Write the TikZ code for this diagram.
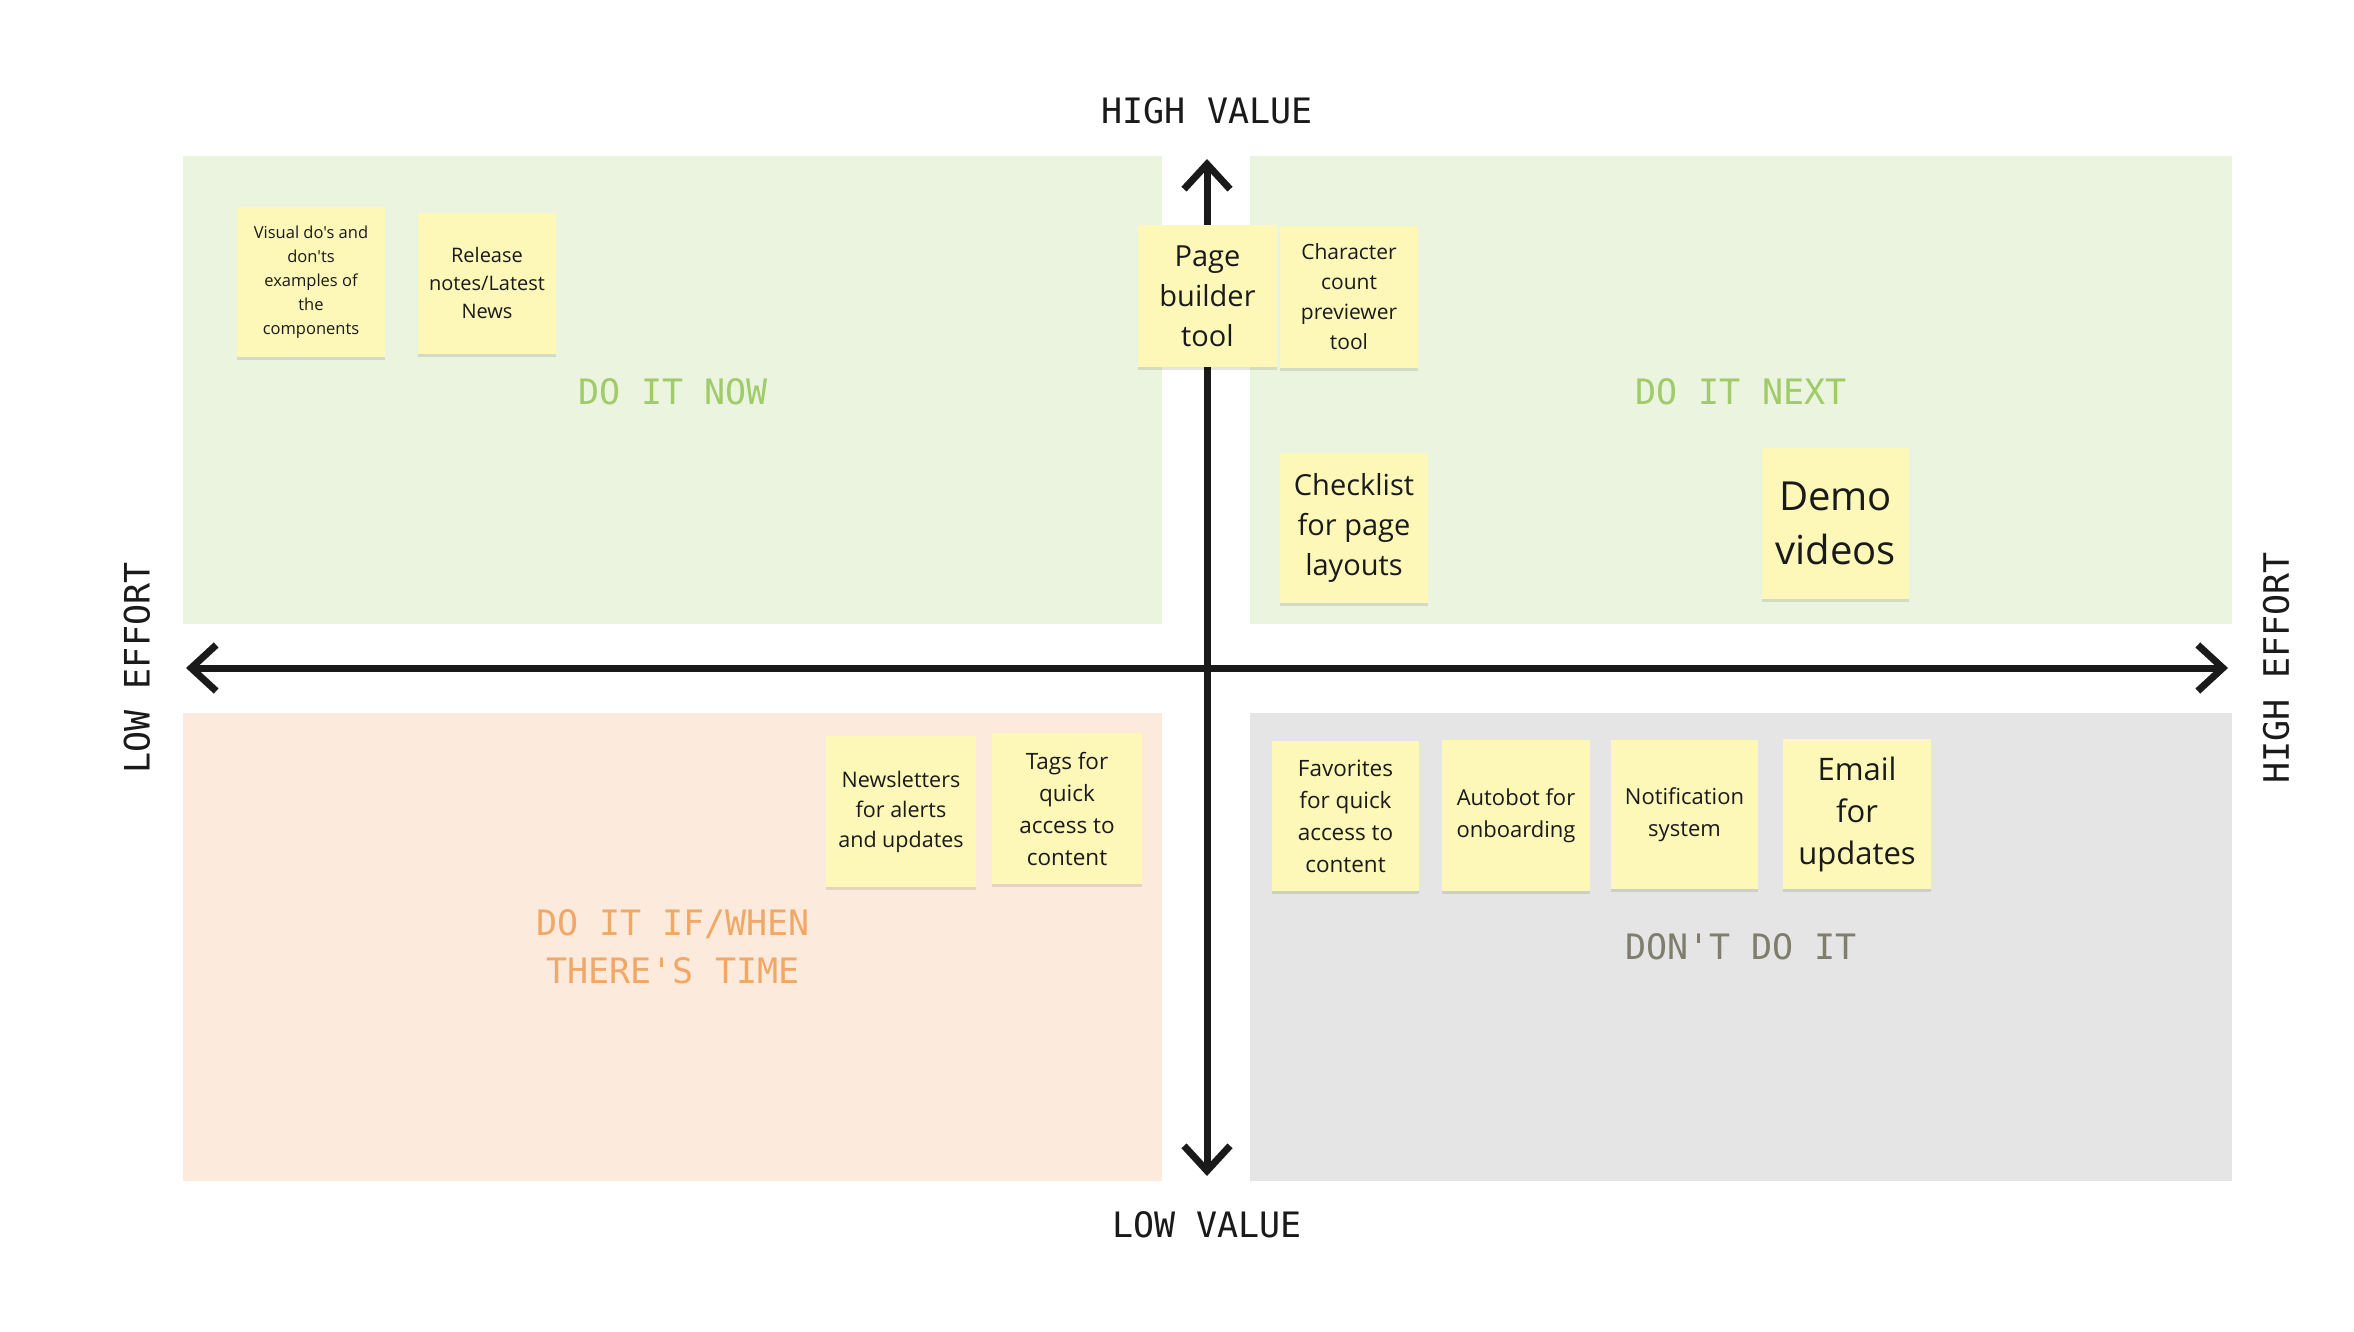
\documentclass[tikz,border=0pt]{standalone}
\usepackage{fontspec}
\newfontfamily\notef{Open Sans}
\setmonofont{DejaVu Sans Mono}
\usetikzlibrary{arrows.meta,shadows}
\definecolor{greenbg}{HTML}{EAF4DE}
\definecolor{peachbg}{HTML}{FCEBDD}
\definecolor{greybg}{HTML}{E5E5E5}
\definecolor{notey}{HTML}{FDF7B8}
\definecolor{greentxt}{HTML}{A0CB68}
\definecolor{orangetxt}{HTML}{F1A866}
\definecolor{greytxt}{HTML}{7F7E6C}
\definecolor{inkc}{HTML}{1A1A1A}
\begin{document}
\begin{tikzpicture}[x=1pt,y=-1pt,
  quad/.style={anchor=north west, inner sep=0pt, outer sep=0pt, draw=none},
  axis/.style={draw=inkc, line width=7pt, {Straight Barb[length=25pt,width=46pt]}-{Straight Barb[length=25pt,width=46pt]}},
  axlabel/.style={font=\ttfamily\fontsize{35}{40}\selectfont, text=inkc, inner sep=0pt},
  qtitle/.style={font=\ttfamily\fontsize{35}{48}\selectfont, align=center, inner sep=0pt},
  note/.style={fill=notey, inner sep=0pt, outer sep=0pt, align=center, text=inkc,
    drop shadow={shadow xshift=0pt, shadow yshift=-3pt, opacity=0.10, fill=black}}
]
\useasboundingbox (0,0) rectangle (2354,1332);
\fill[white] (0,0) rectangle (2354,1332);

% quadrants
\node[quad, fill=greenbg, minimum width=979, minimum height=468] (q1) at (183,156) {};
\node[quad, fill=greenbg, minimum width=982, minimum height=468] (q2) at (1250,156) {};
\node[quad, fill=peachbg, minimum width=979, minimum height=468] (q3) at (183,713) {};
\node[quad, fill=greybg, minimum width=982, minimum height=468] (q4) at (1250,713) {};

% quadrant titles
\node[qtitle, text=greentxt] (t1) at (673,392) {DO IT NOW};
\node[qtitle, text=greentxt] (t2) at (1741,392) {DO IT NEXT};
\node[qtitle, text=orangetxt] (t3) at (673,947) {DO IT IF/WHEN\\THERE'S TIME};
\node[qtitle, text=greytxt] (t4) at (1741,947) {DON'T DO IT};

% axes
\coordinate (axl) at (186,668);
\coordinate (axr) at (2228,668);
\coordinate (axt) at (1207,159);
\coordinate (axb) at (1207,1176);
\draw[axis] (axl) -- (axr);
\draw[axis] (axb) -- (axt);

% axis labels
\node[axlabel] (hv) at (1207,111) {HIGH VALUE};
\node[axlabel] (lv) at (1207,1225) {LOW VALUE};
\node[axlabel, rotate=90] (le) at (137,668) {LOW EFFORT};
\node[axlabel, rotate=90] (he) at (2276,668) {HIGH EFFORT};

% sticky notes
\node[note, minimum width=148, minimum height=150, font=\notef\fontsize{16.5}{24}\selectfont] (n1) at (311,282) {Visual do's and\\don'ts\\examples of\\the\\components};
\node[note, minimum width=138, minimum height=141, font=\notef\fontsize{20}{28}\selectfont] (n2) at (487,283.5) {Release\\notes/Latest\\News};
\node[note, minimum width=139, minimum height=142, font=\notef\fontsize{29}{40}\selectfont] (n3) at (1207.5,296) {Page\\builder\\tool};
\node[note, minimum width=138, minimum height=142, font=\notef\fontsize{21}{30}\selectfont] (n4) at (1349,297) {Character\\count\\previewer\\tool};
\node[note, minimum width=148, minimum height=150, font=\notef\fontsize{29}{40}\selectfont] (n5) at (1354,528) {Checklist\\for page\\layouts};
\node[note, minimum width=147, minimum height=151, font=\notef\fontsize{40}{54}\selectfont] (n6) at (1835.5,523.5) {Demo\\videos};
\node[note, minimum width=150, minimum height=151, font=\notef\fontsize{21.5}{30}\selectfont] (n7) at (901,811.5) {Newsletters\\for alerts\\and updates};
\node[note, minimum width=150, minimum height=151, font=\notef\fontsize{22.5}{32}\selectfont] (n8) at (1067,808.5) {Tags for\\quick\\access to\\content};
\node[note, minimum width=147, minimum height=150, font=\notef\fontsize{22.5}{32}\selectfont] (n9) at (1345.5,816) {Favorites\\for quick\\access to\\content};
\node[note, minimum width=148, minimum height=151, font=\notef\fontsize{22}{32}\selectfont] (n10) at (1516,815.5) {Autobot for\\onboarding};
\node[note, minimum width=147, minimum height=149, font=\notef\fontsize{22}{32}\selectfont] (n11) at (1684.5,814.5) {Notification\\system};
\node[note, minimum width=148, minimum height=150, font=\notef\fontsize{31}{42}\selectfont] (n12) at (1857,814) {Email\\for\\updates};
\end{tikzpicture}
\end{document}
